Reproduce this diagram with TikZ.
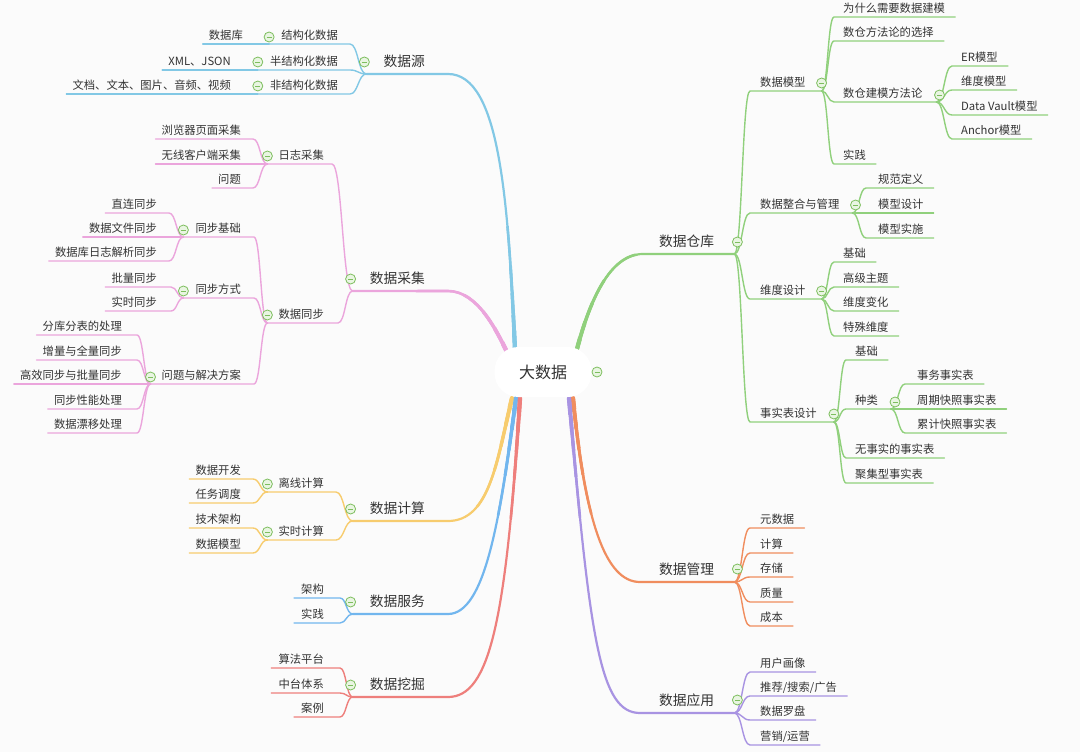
\documentclass[tikz,border=0pt]{standalone}
\usepackage{fontspec}
\setmainfont{Noto Sans CJK SC}
\usetikzlibrary{calc}
\definecolor{bgc}{HTML}{FBFBFB}
\definecolor{txt}{HTML}{333333}
\definecolor{cSrc}{HTML}{82C8E5}
\definecolor{cCol}{HTML}{EBA5DC}
\definecolor{cCmp}{HTML}{F7CC6E}
\definecolor{cSvc}{HTML}{72B6EE}
\definecolor{cMin}{HTML}{EE7F7C}
\definecolor{cWh}{HTML}{90D07C}
\definecolor{cMgt}{HTML}{F08D5E}
\definecolor{cApp}{HTML}{A893E2}
\definecolor{mgr}{HTML}{7DBE5E}
\definecolor{mfl}{HTML}{E9F5E2}
\tikzset{
 lf/.style={font=\fontsize{11.3}{13}\selectfont, text=txt, inner xsep=0pt, inner ysep=2.7pt, text depth=1.5pt, text height=8.5pt},
 mn/.style={font=\fontsize{13.75}{16}\selectfont, text=txt, inner xsep=0pt, inner ysep=5.4pt, text depth=2pt, text height=10.5pt},
 L/.style={anchor=south east},
 R/.style={anchor=south west},
 br/.style={line width=1.4pt, line cap=round},
 sc/.style={to path={let \p1=(\tikztostart), \p2=(\tikztotarget) in .. controls ({0.5*\x1+0.5*\x2},\y1) and ({0.5*\x1+0.5*\x2},\y2) .. (\tikztotarget)}},
 mi/.style={circle, draw=mgr, fill=mfl, line width=0.8pt, minimum size=10pt, inner sep=0pt,
   path picture={\draw[mgr, line width=0.9pt] ([xshift=-2.5pt]path picture bounding box.center) -- ([xshift=2.5pt]path picture bounding box.center);}},
 ctr/.style={fill=white, rounded corners=24pt, minimum width=97pt, minimum height=50pt, font=\fontsize{16}{19}\selectfont, text=txt},
}
\newcommand\mainbranches[1]{%
  \draw[line width=#1, line cap=round, cSrc] (jsrc) -- ([xshift=23pt]src.south east) .. controls +(52,0) and +(-7,-150) .. (pSrc);
  \draw[line width=#1, line cap=round, cCol] (jcol) -- ([xshift=23pt]col.south east) .. controls +(30,0) and +(-10,-20) .. (pCol);
  \draw[line width=#1, line cap=round, cCmp] (jcmp) -- ([xshift=23pt]cmp.south east) .. controls +(42,0) and +(-15,62) .. (pCmp);
  \draw[line width=#1, line cap=round, cSvc] (jsvc) -- ([xshift=23pt]svc.south east) .. controls +(37,0) and +(-16,122) .. (pSvc);
  \draw[line width=#1, line cap=round, cMin] (jmin) -- ([xshift=23pt]mnn.south east) .. controls +(42,0) and +(-14,222) .. (pMin);
  \draw[line width=#1, line cap=round, cWh] (pWh) .. controls +(13,-49) and +(-33,0) .. ([xshift=-16pt]wh.south west) -- (jwh);
  \draw[line width=#1, line cap=round, cMgt] (pMg) .. controls +(12,122) and +(-35,0) .. ([xshift=-19pt]mg.south west) -- (jmg);
  \draw[line width=#1, line cap=round, cApp] (pAp) .. controls +(21,242) and +(-40,0) .. ([xshift=-19pt]ap.south west) -- (jap);
}
\begin{document}
\begin{tikzpicture}[x=1pt,y=-1pt]
\useasboundingbox (0,0) rectangle (1080,752);
\fill[bgc] (0,0) rectangle (1080,752);
\coordinate (ctrc) at (543,372);
\coordinate (pSrc) at ($(ctrc)+(-28,-22)$);
\coordinate (pCol) at ($(ctrc)+(-36,-20)$);
\coordinate (pCmp) at ($(ctrc)+(-31,26)$);
\coordinate (pSvc) at ($(ctrc)+(-27,26)$);
\coordinate (pMin) at ($(ctrc)+(-23,26)$);
\coordinate (pWh) at ($(ctrc)+(34,-23)$);
\coordinate (pMg) at ($(ctrc)+(30,26)$);
\coordinate (pAp) at ($(ctrc)+(26,26)$);

% ---------- left: 数据源
\node[mn,L] (src) at (425,74) {数据源};
\coordinate (jsrc) at ([xshift=-17pt]src.south west);
\node[lf,L] (s1) at (338,44) {结构化数据};
\coordinate (js1) at ([xshift=-12pt]s1.south west);
\node[lf,L] (s1a) at (243,44) {数据库};
\node[lf,L] (s2) at (338,70) {半结构化数据};
\coordinate (js2) at ([xshift=-12pt]s2.south west);
\node[lf,L] (s2a) at (231,70) {XML、JSON};
\node[lf,L] (s3) at (338,94) {非结构化数据};
\coordinate (js3) at ([xshift=-12pt]s3.south west);
\node[lf,L] (s3a) at (231,94) {文档、文本、图片、音频、视频};

% ---------- left: 数据采集
\node[mn,L] (col) at (425,291) {数据采集};
\coordinate (jcol) at ([xshift=-17pt]col.south west);
\node[lf,L] (c1) at (324,164) {日志采集};
\coordinate (jc1) at ([xshift=-11pt]c1.south west);
\node[lf,L] (c1a) at (241,139) {浏览器页面采集};
\node[lf,L] (c1b) at (241,164) {无线客户端采集};
\node[lf,L] (c1c) at (241,188) {问题};
\node[lf,L] (c2) at (324,323) {数据同步};
\coordinate (jc2) at ([xshift=-11pt]c2.south west);
\node[lf,L] (c21) at (241,237) {同步基础};
\coordinate (jc21) at ([xshift=-12pt]c21.south west);
\node[lf,L] (c21a) at (157,213) {直连同步};
\node[lf,L] (c21b) at (157,237) {数据文件同步};
\node[lf,L] (c21c) at (157,261) {数据库日志解析同步};
\node[lf,L] (c22) at (241,298) {同步方式};
\coordinate (jc22) at ([xshift=-12pt]c22.south west);
\node[lf,L] (c22a) at (157,287) {批量同步};
\node[lf,L] (c22b) at (157,311) {实时同步};
\node[lf,L] (c23) at (241,384) {问题与解决方案};
\coordinate (jc23) at ([xshift=-11pt]c23.south west);
\node[lf,L] (c23a) at (122,335) {分库分表的处理};
\node[lf,L] (c23b) at (122,360) {增量与全量同步};
\node[lf,L] (c23c) at (122,384) {高效同步与批量同步};
\node[lf,L] (c23d) at (122,409) {同步性能处理};
\node[lf,L] (c23e) at (122,433) {数据漂移处理};

% ---------- left: 数据计算
\node[mn,L] (cmp) at (425,521) {数据计算};
\coordinate (jcmp) at ([xshift=-17pt]cmp.south west);
\node[lf,L] (k1) at (324,492) {离线计算};
\coordinate (jk1) at ([xshift=-11pt]k1.south west);
\node[lf,L] (k1a) at (241,479) {数据开发};
\node[lf,L] (k1b) at (241,503) {任务调度};
\node[lf,L] (k2) at (324,540) {实时计算};
\coordinate (jk2) at ([xshift=-11pt]k2.south west);
\node[lf,L] (k2a) at (241,528) {技术架构};
\node[lf,L] (k2b) at (241,553) {数据模型};

% ---------- left: 数据服务 / 数据挖掘
\node[mn,L] (svc) at (425,614) {数据服务};
\coordinate (jsvc) at ([xshift=-17pt]svc.south west);
\node[lf,L] (v1) at (324,598) {架构};
\node[lf,L] (v2) at (324,623) {实践};
\node[mn,L] (mnn) at (425,697) {数据挖掘};
\coordinate (jmin) at ([xshift=-17pt]mnn.south west);
\node[lf,L] (w1) at (324,668) {算法平台};
\node[lf,L] (w2) at (324,693) {中台体系};
\node[lf,L] (w3) at (324,717) {案例};

% ---------- right: 数据仓库
\node[mn,R] (wh) at (659,254) {数据仓库};
\coordinate (jwh) at ([xshift=20pt]wh.south east);
\node[lf,R] (h1) at (760,91) {数据模型};
\coordinate (jh1) at ([xshift=16pt]h1.south east);
\node[lf,R] (h1a) at (843,17) {为什么需要数据建模};
\node[lf,R] (h1b) at (843,41) {数仓方法论的选择};
\node[lf,R] (h1c) at (843,102) {数仓建模方法论};
\coordinate (jh1c) at ([xshift=14pt]h1c.south east);
\node[lf,R] (h1c1) at (961,66) {ER模型};
\node[lf,R] (h1c2) at (961,90) {维度模型};
\node[lf,R] (h1c3) at (961,115) {Data Vault模型};
\node[lf,R] (h1c4) at (961,139) {Anchor模型};
\node[lf,R] (h1d) at (843,164) {实践};
\node[lf,R] (h2) at (760,213) {数据整合与管理};
\coordinate (jh2) at ([xshift=13pt]h2.south east);
\node[lf,R] (h2a) at (878,188) {规范定义};
\node[lf,R] (h2b) at (878,213) {模型设计};
\node[lf,R] (h2c) at (878,238) {模型实施};
\node[lf,R] (h3) at (760,299) {维度设计};
\coordinate (jh3) at ([xshift=16pt]h3.south east);
\node[lf,R] (h3a) at (843,262) {基础};
\node[lf,R] (h3b) at (843,287) {高级主题};
\node[lf,R] (h3c) at (843,311) {维度变化};
\node[lf,R] (h3d) at (843,336) {特殊维度};
\node[lf,R] (h4) at (760,422) {事实表设计};
\coordinate (jh4) at ([xshift=17pt]h4.south east);
\node[lf,R] (h4a) at (855,360) {基础};
\node[lf,R] (h4b) at (855,409) {种类};
\coordinate (jh4b) at ([xshift=13pt]h4b.south east);
\node[lf,R] (h4b1) at (917,384) {事务事实表};
\node[lf,R] (h4b2) at (917,409) {周期快照事实表};
\node[lf,R] (h4b3) at (917,433) {累计快照事实表};
\node[lf,R] (h4c) at (855,458) {无事实的事实表};
\node[lf,R] (h4d) at (855,483) {聚集型事实表};

% ---------- right: 数据管理 / 数据应用
\node[mn,R] (mg) at (659,582) {数据管理};
\coordinate (jmg) at ([xshift=20pt]mg.south east);
\node[lf,R] (g1) at (760,528) {元数据};
\node[lf,R] (g2) at (760,553) {计算};
\node[lf,R] (g3) at (760,577) {存储};
\node[lf,R] (g4) at (760,602) {质量};
\node[lf,R] (g5) at (760,626) {成本};
\node[mn,R] (ap) at (659,713) {数据应用};
\coordinate (jap) at ([xshift=20pt]ap.south east);
\node[lf,R] (a1) at (760,672) {用户画像};
\node[lf,R] (a2) at (760,696) {推荐/搜索/广告};
\node[lf,R] (a3) at (760,720) {数据罗盘};
\node[lf,R] (a4) at (760,745) {营销/运营};

% ================= connectors, left
\foreach \n/\j in {s1a/js1,s2a/js2,s3a/js3} \draw[br,cSrc] ([xshift=-6pt]\n.south west) -- (\j);
\foreach \n/\j in {s1/js1,s2/js2,s3/js3} \draw[br,cSrc] (\j) -- ([xshift=12pt]\n.south east) to[sc] (jsrc);

\foreach \n in {c1a,c1b,c1c} \draw[br,cCol] ([xshift=-6pt]\n.south west) -- ([xshift=12pt]\n.south east) to[sc] (jc1);
\draw[br,cCol] (jc1) -- ([xshift=8pt]c1.south east) to[sc] (jcol);
\draw[br,cCol] (jc2) -- ([xshift=14pt]c2.south east) to[sc] (jcol);
\foreach \n in {c21a,c21b,c21c} \draw[br,cCol] ([xshift=-6pt]\n.south west) -- ([xshift=12pt]\n.south east) to[sc] (jc21);
\foreach \n in {c22a,c22b} \draw[br,cCol] ([xshift=-6pt]\n.south west) -- ([xshift=14pt]\n.south east) to[sc] (jc22);
\foreach \n in {c23a,c23b,c23c,c23d,c23e} \draw[br,cCol] ([xshift=-6pt]\n.south west) -- ([xshift=15pt]\n.south east) to[sc] (jc23);
\foreach \j/\n in {jc21/c21,jc22/c22,jc23/c23} \draw[br,cCol] (\j) -- ([xshift=13pt]\n.south east) to[sc] (jc2);

\foreach \n in {k1a,k1b} \draw[br,cCmp] ([xshift=-6pt]\n.south west) -- ([xshift=12pt]\n.south east) to[sc] (jk1);
\foreach \n in {k2a,k2b} \draw[br,cCmp] ([xshift=-6pt]\n.south west) -- ([xshift=12pt]\n.south east) to[sc] (jk2);
\draw[br,cCmp] (jk1) -- ([xshift=12pt]k1.south east) to[sc] (jcmp);
\draw[br,cCmp] (jk2) -- ([xshift=12pt]k2.south east) to[sc] (jcmp);

\foreach \n in {v1,v2} \draw[br,cSvc] ([xshift=-7pt]\n.south west) -- ([xshift=16pt]\n.south east) to[sc] (jsvc);
\foreach \n in {w1,w2,w3} \draw[br,cMin] ([xshift=-7pt]\n.south west) -- ([xshift=16pt]\n.south east) to[sc] (jmin);

% ================= connectors, right
\foreach \n/\j in {h1/jh1,h2/jh2,h3/jh3,h4/jh4} \draw[br,cWh] (jwh) to[sc] ([xshift=-10pt]\n.south west) -- (\j);
\foreach \n in {h1a,h1b,h1d} \draw[br,cWh] (jh1) to[sc] ([xshift=-9pt]\n.south west) -- ([xshift=10pt]\n.south east);
\draw[br,cWh] (jh1) to[sc] ([xshift=-9pt]h1c.south west) -- (jh1c);
\foreach \n in {h1c1,h1c2,h1c3,h1c4} \draw[br,cWh] (jh1c) to[sc] ([xshift=-9pt]\n.south west) -- ([xshift=10pt]\n.south east);
\foreach \n in {h2a,h2b,h2c} \draw[br,cWh] (jh2) to[sc] ([xshift=-12pt]\n.south west) -- ([xshift=10pt]\n.south east);
\foreach \n in {h3a,h3b,h3c,h3d} \draw[br,cWh] (jh3) to[sc] ([xshift=-9pt]\n.south west) -- ([xshift=10pt]\n.south east);
\foreach \n in {h4a,h4c,h4d} \draw[br,cWh] (jh4) to[sc] ([xshift=-9pt]\n.south west) -- ([xshift=10pt]\n.south east);
\draw[br,cWh] (jh4) to[sc] ([xshift=-9pt]h4b.south west) -- (jh4b);
\foreach \n in {h4b1,h4b2,h4b3} \draw[br,cWh] (jh4b) to[sc] ([xshift=-12pt]\n.south west) -- ([xshift=10pt]\n.south east);

\foreach \n in {g1,g2,g3,g4,g5} \draw[br,cMgt] (jmg) to[sc] ([xshift=-10pt]\n.south west) -- ([xshift=10pt]\n.south east);
\foreach \n in {a1,a2,a3,a4} \draw[br,cApp] (jap) to[sc] ([xshift=-10pt]\n.south west) -- ([xshift=10pt]\n.south east);

% ================= main branches (tapered towards the centre)
\mainbranches{2.2pt}
\foreach \w/\r in {2.6/150,3.0/110,3.4/85,3.8/65,4.3/50}{
 \begin{scope}
  \clip (ctrc) circle (\r);
  \mainbranches{\w pt}
 \end{scope}
}

% ================= centre
\node[ctr] (ctr) at (ctrc) {大数据};

% ================= collapse markers
\node[mi] (m0) at ([xshift=54pt]ctr.center) {};
\node[mi] (m1) at ([xshift=-2pt,yshift=12pt]jsrc) {};
\node[mi] (m2) at ([yshift=7pt]js1) {};
\node[mi] (m3) at ([yshift=8pt]js2) {};
\node[mi] (m4) at ([yshift=8pt]js3) {};
\node[mi] (m5) at ([xshift=-2pt,yshift=12pt]jcol) {};
\node[mi] (m6) at ([yshift=8pt]jc1) {};
\node[mi] (m7) at ([yshift=8pt]jc2) {};
\node[mi] (m8) at ([yshift=7pt]jc21) {};
\node[mi] (m9) at ([yshift=7pt]jc22) {};
\node[mi] (m10) at ([yshift=7pt]jc23) {};
\node[mi] (m11) at ([xshift=-2pt,yshift=12pt]jcmp) {};
\node[mi] (m12) at ([yshift=8pt]jk1) {};
\node[mi] (m13) at ([yshift=8pt]jk2) {};
\node[mi] (m14) at ([xshift=-2pt,yshift=12pt]jsvc) {};
\node[mi] (m15) at ([xshift=-2pt,yshift=12pt]jmin) {};
\node[mi] (m16) at ([xshift=3pt,yshift=12pt]jwh) {};
\node[mi] (m17) at ([yshift=8pt]jh1) {};
\node[mi] (m18) at ([xshift=3pt,yshift=7pt]jh1c) {};
\node[mi] (m19) at ([xshift=3pt,yshift=8pt]jh2) {};
\node[mi] (m20) at ([yshift=8pt]jh3) {};
\node[mi] (m21) at ([yshift=8pt]jh4) {};
\node[mi] (m22) at ([xshift=4pt,yshift=7pt]jh4b) {};
\node[mi] (m23) at ([xshift=3pt,yshift=13pt]jmg) {};
\node[mi] (m24) at ([xshift=3pt,yshift=13pt]jap) {};
\end{tikzpicture}
\end{document}
